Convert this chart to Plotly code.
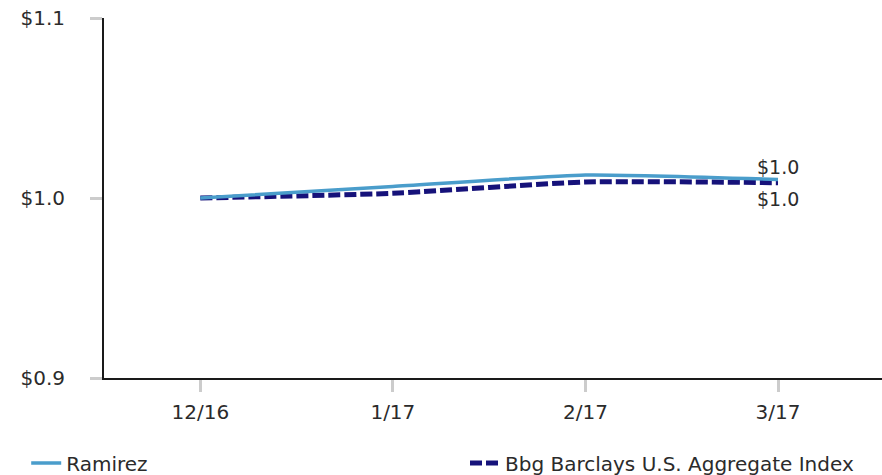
import plotly.graph_objects as go

# Growth of $1 over the quarter
months = ["12/16", "1/17", "2/17", "3/17"]
ramirez = [1.000, 1.0064, 1.0128, 1.0103]
barclays = [1.000, 1.0026, 1.0089, 1.0085]
y_ticks = [0.9, 1.0, 1.1]
y_tick_text = ["$0.9", "$1.0", "$1.1"]

FONT = "DejaVu Sans"
TEXT_COLOR = "#2b2b2b"
RAMIREZ_COLOR = "#4a9dcb"
BARCLAYS_COLOR = "#16127a"

fig = go.Figure()

fig.add_trace(go.Scatter(
    x=months, y=barclays, name="Bbg Barclays U.S. Aggregate Index",
    mode="lines", line=dict(color=BARCLAYS_COLOR, width=5, dash="12px,4px",
                            shape="spline", smoothing=0.5),
    legend="legend2",
))
fig.add_trace(go.Scatter(
    x=months, y=ramirez, name="Ramirez",
    mode="lines", line=dict(color=RAMIREZ_COLOR, width=3.5,
                            shape="spline", smoothing=0.5),
    legend="legend",
))

# End-of-period value labels
fig.add_annotation(x=months[-1], y=ramirez[-1], text=f"${ramirez[-1]:.1f}",
                   showarrow=False, yanchor="middle", yshift=12,
                   font=dict(family=FONT, size=19, color=TEXT_COLOR))
fig.add_annotation(x=months[-1], y=barclays[-1], text=f"${barclays[-1]:.1f}",
                   showarrow=False, yanchor="middle", yshift=-16,
                   font=dict(family=FONT, size=19, color=TEXT_COLOR))

legend_font = dict(family=FONT, size=20, color=TEXT_COLOR)
fig.update_layout(
    width=882, height=475,
    margin=dict(l=104, r=0, t=18, b=97, autoexpand=False),
    paper_bgcolor="white", plot_bgcolor="white",
    font=dict(family=FONT, size=19, color=TEXT_COLOR),
    showlegend=True,
    legend=dict(orientation="h", x=-0.1, xanchor="left", y=-0.236,
                yanchor="middle", font=legend_font, bgcolor="rgba(0,0,0,0)"),
    legend2=dict(orientation="h", x=0.464, xanchor="left", y=-0.236,
                 yanchor="middle", font=legend_font, bgcolor="rgba(0,0,0,0)"),
)

fig.update_xaxes(
    type="category", range=[-0.5, 3.54],
    showline=True, linecolor="#1a1a1a", linewidth=2,
    showgrid=False, zeroline=False,
    ticks="outside", ticklen=12, tickwidth=3, tickcolor="#cccccc",
    tickfont=dict(family=FONT, size=20, color=TEXT_COLOR),
    ticklabelstandoff=3,
)
fig.update_yaxes(
    range=[0.9, 1.1], tickvals=y_ticks, ticktext=y_tick_text,
    showline=True, linecolor="#1a1a1a", linewidth=2,
    showgrid=False, zeroline=False,
    ticks="outside", ticklen=12, tickwidth=3, tickcolor="#cccccc",
    tickfont=dict(family=FONT, size=20, color=TEXT_COLOR),
    ticklabelstandoff=21,
)

fig.write_html("out.html")
